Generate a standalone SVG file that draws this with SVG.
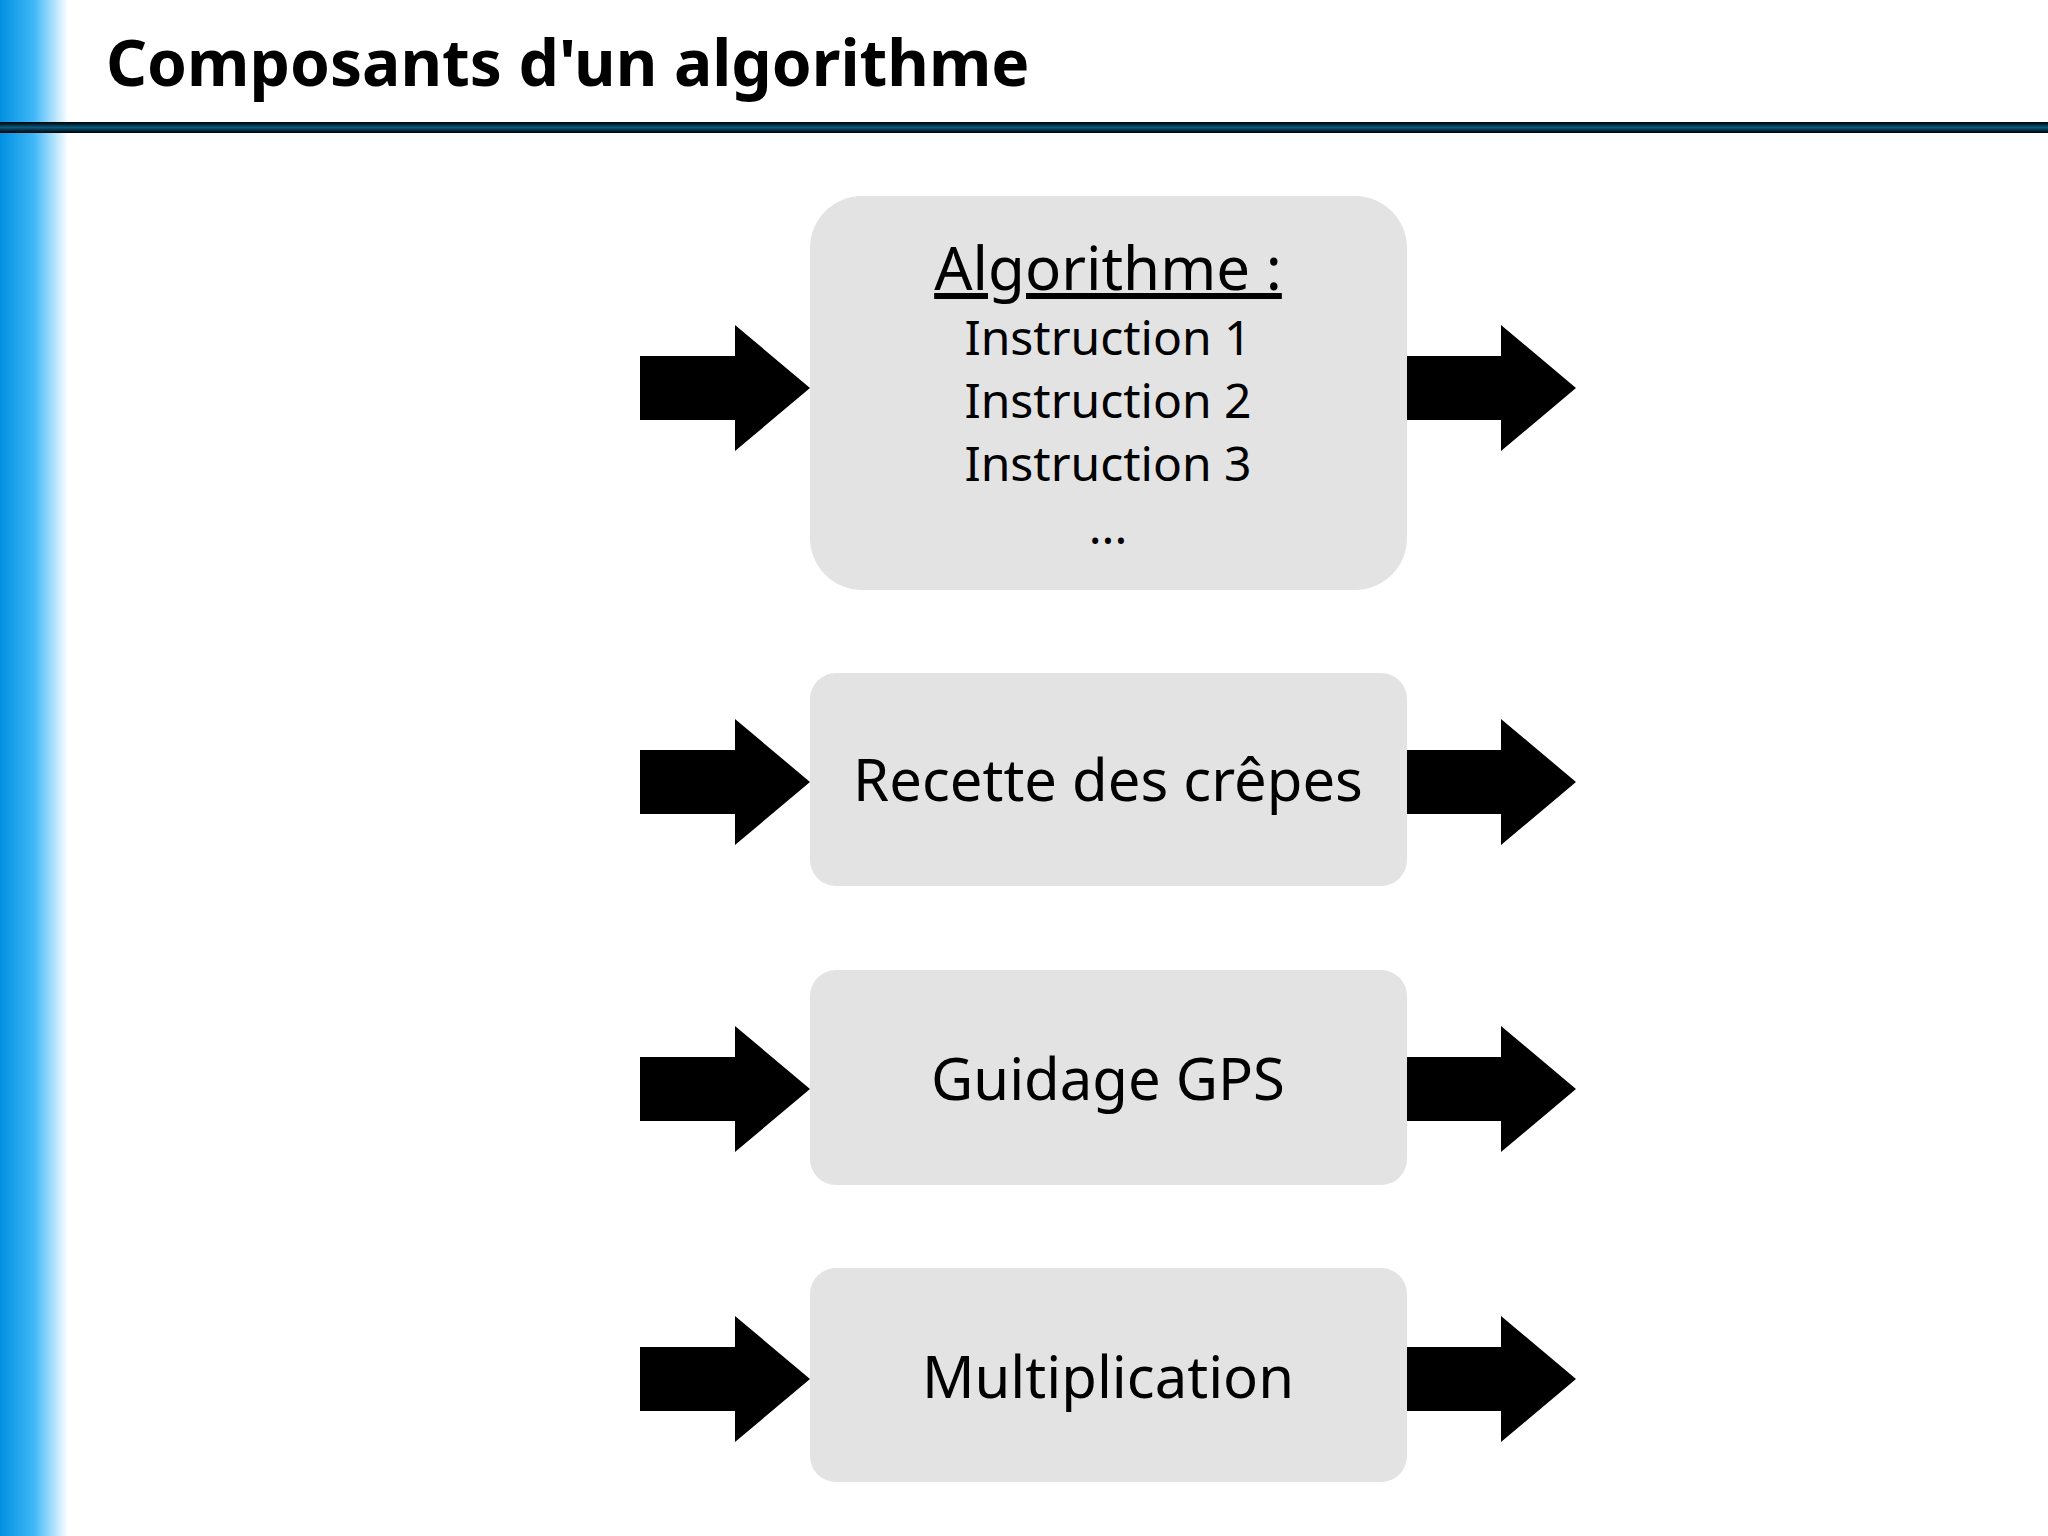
<svg xmlns="http://www.w3.org/2000/svg" width="2048" height="1536" viewBox="0 0 2048 1536">
<defs>
<linearGradient id="lb" x1="0" y1="0" x2="1" y2="0">
<stop offset="0" stop-color="#0090e0"/><stop offset="0.5" stop-color="#40b8f8"/><stop offset="1" stop-color="#ffffff"/>
</linearGradient>
<linearGradient id="hl" x1="0" y1="0" x2="0" y2="1">
<stop offset="0" stop-color="#000"/><stop offset="0.5" stop-color="#0a5a80"/><stop offset="1" stop-color="#000"/>
</linearGradient>
<path id="arr" d="M0,-32 H95 V-63 L170,0 L95,63 V32 H0 Z" fill="#000"/>
</defs>
<style>
.box{fill:#e3e3e3}
.t{font-family:"Noto Sans","Open Sans",sans-serif;fill:#000;text-anchor:middle}
</style>
<rect width="2048" height="1536" fill="#fff"/>
<rect x="0" y="0" width="68" height="1536" fill="url(#lb)"/>
<rect x="0" y="122" width="2048" height="11" fill="url(#hl)"/>
<text x="106" y="86" font-family="Noto Sans, sans-serif" font-weight="bold" font-size="64" fill="#000">Composants d'un algorithme</text>
<g id="connectors">
<use href="#arr" x="640" y="388"/><use href="#arr" x="1406" y="388"/>
<use href="#arr" x="640" y="782"/><use href="#arr" x="1406" y="782"/>
<use href="#arr" x="640" y="1089"/><use href="#arr" x="1406" y="1089"/>
<use href="#arr" x="640" y="1379"/><use href="#arr" x="1406" y="1379"/>
</g>
<g id="algo">
<rect class="box" x="810" y="196" width="597" height="394" rx="52"/>
<text class="t" x="1108" y="290" font-size="60" text-decoration="underline">Algorithme :</text>
<text class="t" x="1108" y="355" font-size="48">Instruction 1</text>
<text class="t" x="1108" y="418" font-size="48">Instruction 2</text>
<text class="t" x="1108" y="481" font-size="48">Instruction 3</text>
<text class="t" x="1108" y="544" font-size="48">...</text>
</g>
<g id="recette">
<rect class="box" x="810" y="673" width="597" height="213" rx="26"/>
<text class="t" x="1108" y="801" font-size="58">Recette des crêpes</text>
</g>
<g id="gps">
<rect class="box" x="810" y="970" width="597" height="215" rx="26"/>
<text class="t" x="1108" y="1100" font-size="58">Guidage GPS</text>
</g>
<g id="mult">
<rect class="box" x="810" y="1268" width="597" height="214" rx="26"/>
<text class="t" x="1108" y="1398" font-size="58">Multiplication</text>
</g>
</svg>
